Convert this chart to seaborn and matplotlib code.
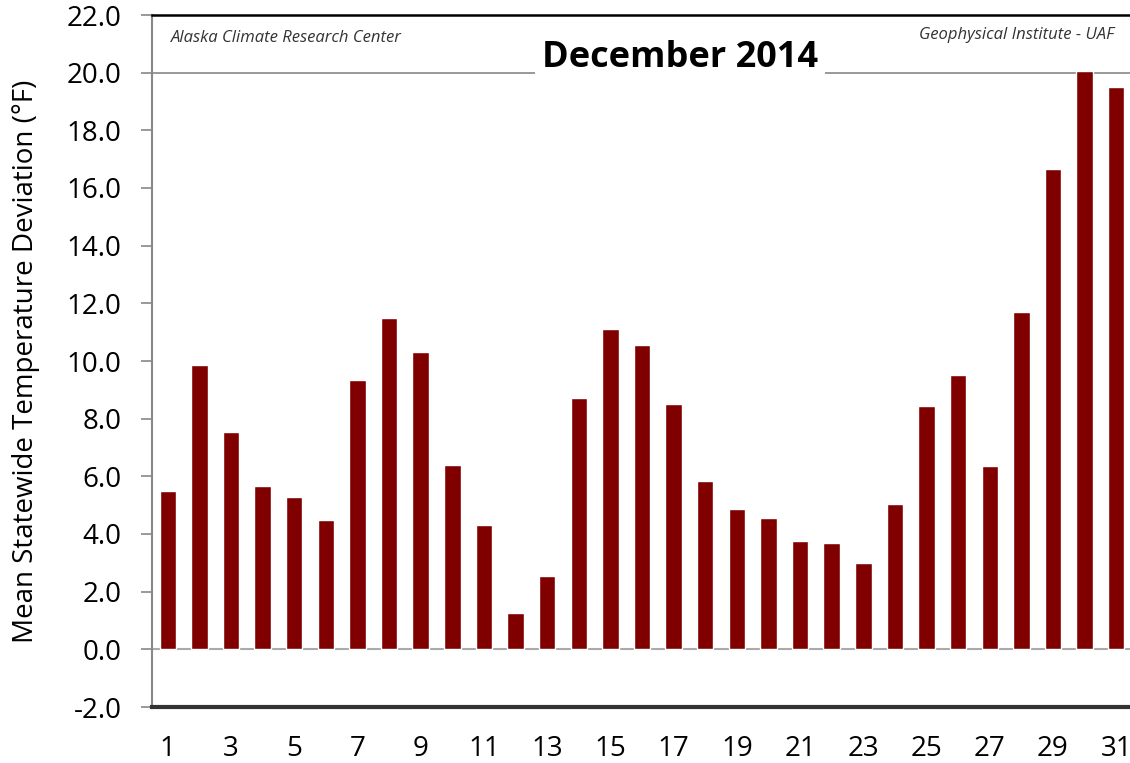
import numpy as np
import pandas as pd
import matplotlib
matplotlib.use("Agg")
import matplotlib.pyplot as plt
import seaborn as sns

days = list(range(1, 32))
deviation = [5.5, 9.85, 7.55, 5.65, 5.3, 4.5, 9.35, 11.5, 10.3, 6.4,
             4.3, 1.25, 2.55, 8.7, 11.1, 10.55, 8.5, 5.85, 4.85, 4.55,
             3.75, 3.7, 3.0, 5.05, 8.45, 9.5, 6.35, 11.7, 16.65, 20.05, 19.5]
y_ticks = np.arange(-2, 23, 2)
title = "December 2014"
left_note = "Alaska Climate Research Center"
right_note = "Geophysical Institute - UAF"
y_label = "Mean Statewide Temperature Deviation (°F)"

sns.set_style("white")
plt.rcParams["font.family"] = ["Open Sans", "DejaVu Sans"]
plt.rcParams["text.color"] = "black"
plt.rcParams["axes.labelcolor"] = "black"

df = pd.DataFrame({"day": days, "dev": deviation})

fig = plt.figure(figsize=(11.3, 7.63), dpi=100)
ax = fig.add_axes([152 / 1130, 56 / 763, 980 / 1130, 692 / 763])

sns.barplot(data=df, x="day", y="dev", color="#800000", width=0.52,
            saturation=1, ax=ax)

ax.set_xlim(-0.5, 30.5)
ax.set_ylim(-2, 22)
ax.set_yticks(y_ticks)
ax.set_yticklabels([f"{v:.1f}" for v in y_ticks], fontsize=20)

pos = np.arange(len(days))
ax.set_xticks(pos[::2])
ax.set_xticklabels([str(d) for d in days[::2]], fontsize=20)
ax.set_xticks(np.arange(-0.5, 31, 1), minor=True)
ax.tick_params(axis="x", which="major", length=0, pad=20, labelcolor="black")
ax.tick_params(axis="x", which="minor", length=8, width=1.2, color="#888888",
               direction="out")
ax.tick_params(axis="y", length=8, width=1.2, color="#888888", direction="out",
               left=True, pad=14, labelcolor="black")

ax.set_xlabel("")
ax.set_ylabel(y_label, fontsize=20, labelpad=19)

ax.spines["left"].set_color("#888888")
ax.spines["left"].set_linewidth(1.5)
ax.spines["right"].set_visible(False)
ax.spines["top"].set_color("black")
ax.spines["top"].set_linewidth(1.8)
ax.spines["bottom"].set_color("#333333")
ax.spines["bottom"].set_linewidth(3)

ax.axhline(0, color="#aaaaaa", lw=1.5, zorder=0)
ax.axhline(20, color="#888888", lw=1.2, zorder=0)

ax.text(0.019, 0.978, left_note, transform=ax.transAxes, fontsize=12,
        style="italic", color="#333333", va="top", ha="left")
ax.text(0.982, 0.983, right_note, transform=ax.transAxes, fontsize=12,
        style="italic", color="#333333", va="top", ha="right")
ax.text(0.539, 0.938, title, transform=ax.transAxes, fontsize=26,
        fontweight="bold", ha="center", va="center",
        bbox=dict(facecolor="white", edgecolor="none", pad=5), zorder=5)

fig.savefig("out.png", dpi=100)
